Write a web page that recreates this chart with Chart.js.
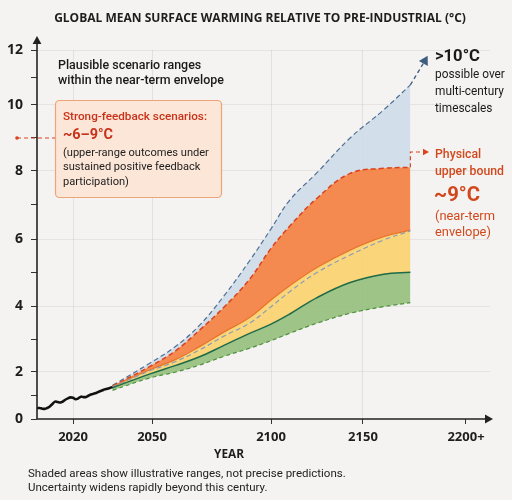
<!DOCTYPE html>
<html><head><meta charset="utf-8">
<script src="https://cdn.jsdelivr.net/npm/chart.js@4.4.1/dist/chart.umd.min.js"></script>
<style>
html,body{margin:0;padding:0;background:#f4f3f1;}
#wrap{width:512px;height:500px;position:relative;}
</style></head><body>
<div id="wrap"><canvas id="c" width="512" height="500"></canvas></div>
<script>
// ---------- data ----------
const histYears  = [2006,2007,2008,2009,2010,2011,2012,2013,2014,2015,2016,2017,2018,2019,2020,2021,2022,2023,2024,2025,2026,2027,2028,2029,2030,2031,2032,2033,2034,2035];
const histValues = [0.46,0.47,0.44,0.43,0.47,0.53,0.64,0.74,0.72,0.70,0.74,0.82,0.88,0.92,0.90,0.84,0.88,0.95,0.93,0.94,1.00,1.05,1.08,1.12,1.17,1.21,1.26,1.29,1.32,1.36];

const projYears   = [2035, 2049, 2060, 2070, 2080, 2091, 2100, 2110, 2125, 2143, 2160, 2173];
const greenLow    = [1.22, 1.74, 2.00, 2.21, 2.47, 2.72, 2.95, 3.17, 3.48, 3.78, 3.98, 4.10];
const greenHigh   = [1.33, 1.91, 2.20, 2.46, 2.80, 3.17, 3.45, 3.75, 4.25, 4.70, 4.95, 5.01];
const medianLine  = [1.36, 2.03, 2.32, 2.67, 3.08, 3.48, 3.98, 4.42, 5.00, 5.52, 5.97, 6.24];
const yellowHigh  = [1.38, 2.06, 2.38, 2.77, 3.20, 3.65, 4.18, 4.60, 5.15, 5.67, 6.07, 6.26];
const orangeHigh  = [1.40, 2.16, 2.65, 3.27, 3.95, 4.80, 5.72, 6.37, 7.20, 7.93, 8.08, 8.11];
const blueHigh    = [1.43, 2.26, 2.78, 3.42, 4.28, 5.35, 6.30, 7.13, 7.95, 9.00, 9.85, 10.73];

const arrowYears  = [2173, 2180];
const arrowValues = [10.73, 11.6];

const xTickValues = [2020, 2050, 2100, 2150, 2200];
const xTickLabels = ['2020', '2050', '2100', '2150', '2200+'];
const yTickValues = [0,1,2,3,4,5,6,7,8,9,10,11,12];

// ---------- piecewise axis (reference axes are not evenly spaced) ----------
const BREAKS = {
  x: [[2006,0],[2020,0.0795],[2050,0.2539],[2100,0.5166],[2150,0.7196],[2200,0.947],[2212,1]],
  y: [[0,0],[2,0.1274],[4,0.3062],[6,0.4878],[8,0.6721],[10,0.851],[12,1]]
};
function toFrac(b, v){
  let i = 0;
  while (i < b.length - 2 && v > b[i+1][0]) i++;
  const [v0,f0] = b[i], [v1,f1] = b[i+1];
  return f0 + (v - v0) * (f1 - f0) / (v1 - v0);
}
function fromFrac(b, f){
  let i = 0;
  while (i < b.length - 2 && f > b[i+1][1]) i++;
  const [v0,f0] = b[i], [v1,f1] = b[i+1];
  return v0 + (f - f0) * (v1 - v0) / (f1 - f0);
}
class PiecewiseScale extends Chart.LinearScale {
  getPixelForValue(value){
    if (value === null || value === undefined || isNaN(value)) return NaN;
    return this.getPixelForDecimal(toFrac(BREAKS[this.axis], value));
  }
  getValueForPixel(pixel){
    return fromFrac(BREAKS[this.axis], this.getDecimalForPixel(pixel));
  }
}
PiecewiseScale.id = 'piecewise';
PiecewiseScale.defaults = Chart.LinearScale.defaults;
Chart.register(PiecewiseScale);

const pts = (xs, ys) => xs.map((x, i) => ({x, y: ys[i]}));
const FONT = '"Open Sans", "Noto Sans", sans-serif';
const TFONT = 'Roboto, "Open Sans", sans-serif';

function band(label, values, line, fillColor, dash, width){
  return {
    label, data: pts(projYears, values),
    borderColor: line, borderWidth: width || 1.3, borderDash: dash || [],
    backgroundColor: fillColor || 'transparent',
    fill: fillColor ? '-1' : false,
    pointRadius: 0, tension: 0.4
  };
}

const bgPlugin = {
  id: 'bg',
  beforeDraw(chart){
    const c = chart.ctx; c.save(); c.fillStyle = '#f4f3f1';
    c.fillRect(0, 0, chart.width, chart.height); c.restore();
  }
};

function arrowHead(c, x, y, angle, size, color){
  c.save(); c.translate(x, y); c.rotate(angle);
  c.fillStyle = color; c.beginPath();
  c.moveTo(0, 0); c.lineTo(-size, -size*0.55); c.lineTo(-size, size*0.55); c.closePath(); c.fill();
  c.restore();
}
// choose a font size so the reference text block keeps its width
function fitFont(c, weight, family, text, target){
  c.font = weight + ' 20px ' + family;
  const w = c.measureText(text).width;
  return weight + ' ' + (20 * target / w).toFixed(2) + 'px ' + family;
}
function block(c, lines, x, y0, lh, weight, family, widest, target, color){
  c.font = fitFont(c, weight, family, widest, target);
  c.fillStyle = color;
  lines.forEach((t, i) => c.fillText(t, x, y0 + i * lh));
}

const annoPlugin = {
  id: 'anno',
  afterDraw(chart){
    const c = chart.ctx, a = chart.chartArea, xs = chart.scales.x, ys = chart.scales.y;
    c.save();
    // axes with arrows
    c.strokeStyle = '#222'; c.lineWidth = 1.6; c.setLineDash([]);
    c.beginPath(); c.moveTo(a.left, a.bottom); c.lineTo(a.left, a.top - 10); c.stroke();
    arrowHead(c, a.left, a.top - 14, -Math.PI/2, 8, '#222');
    c.beginPath(); c.moveTo(a.left, a.bottom); c.lineTo(a.right - 2, a.bottom); c.stroke();
    arrowHead(c, a.right + 3, a.bottom, 0, 8, '#222');

    // title
    c.textBaseline = 'middle'; c.textAlign = 'center';
    const tTxt = 'GLOBAL MEAN SURFACE WARMING RELATIVE TO PRE-INDUSTRIAL (°C)';
    block(c, [tTxt], 260, 19, 0, 'bold', FONT, tTxt, 412, '#1d1d1d');

    // axis title + footnote
    block(c, ['YEAR'], 229, 455, 0, 'bold', FONT, 'YEAR', 30, '#1d1d1d');
    c.textAlign = 'left';
    const f1 = 'Shaded areas show illustrative ranges, not precise predictions.';
    block(c, [f1, 'Uncertainty widens rapidly beyond this century.'], 28, 474, 14.5, 'normal', TFONT, f1, 318, '#222');

    // upper-left note
    block(c, ['Plausible scenario ranges', 'within the near-term envelope'], 58, 66, 15, '500', TFONT,
          'within the near-term envelope', 166, '#1a1a1a');

    // strong-feedback box
    c.fillStyle = '#fce6d7'; c.strokeStyle = '#eea47a'; c.lineWidth = 1.2;
    c.beginPath(); c.roundRect(55.5, 100.5, 166, 97, 4); c.fill(); c.stroke();
    const y9 = ys.getPixelForValue(9);
    c.strokeStyle = '#d9431e'; c.lineWidth = 1.2; c.setLineDash([4, 3]);
    c.beginPath(); c.moveTo(17, y9); c.lineTo(55, y9); c.stroke(); c.setLineDash([]);
    c.fillStyle = '#d9431e'; c.beginPath(); c.arc(17, y9, 1.8, 0, Math.PI*2); c.fill();
    block(c, ['Strong-feedback scenarios:'], 63, 117, 0, '500', TFONT, 'Strong-feedback scenarios:', 144, '#c8321a');
    block(c, ['~6–9°C'], 63, 135, 0, 'bold', TFONT, '~6–9°C', 50, '#c8321a');
    block(c, ['(upper-range outcomes under', 'sustained positive feedback', 'participation)'], 63, 153, 14.5,
          'normal', TFONT, '(upper-range outcomes under', 146, '#222');

    // >10°C note
    block(c, ['>10°C'], 435, 57, 0, 'bold', TFONT, '>10°C', 45, '#1a1a1a');
    block(c, ['possible over', 'multi-century', 'timescales'], 435, 75, 17, 'normal', TFONT, 'multi-century', 69, '#1a1a1a');

    // physical upper bound connector + note
    const ex = xs.getPixelForValue(projYears[projYears.length-1]);
    const ey = ys.getPixelForValue(orangeHigh[orangeHigh.length-1]);
    c.strokeStyle = '#d9431e'; c.lineWidth = 1.2; c.setLineDash([4, 3]);
    c.beginPath(); c.moveTo(ex, ey); c.lineTo(ex, 152); c.lineTo(424, 152); c.stroke(); c.setLineDash([]);
    arrowHead(c, 429, 152, 0, 6, '#d9431e');
    block(c, ['Physical', 'upper bound'], 435, 155, 17, '500', TFONT, 'upper bound', 69, '#d2481c');
    block(c, ['~9°C'], 434, 196, 0, 'bold', TFONT, '~9°C', 46, '#d2481c');
    block(c, ['(near-term', 'envelope)'], 435, 217, 16, 'normal', TFONT, '(near-term', 60, '#d2481c');
    c.restore();
  }
};

new Chart(document.getElementById('c'), {
  type: 'line',
  data: {
    datasets: [
      { label: 'Observed', data: pts(histYears, histValues), borderColor: '#111', borderWidth: 2.6,
        pointRadius: 0, tension: 0.35, fill: false, order: -1 },
      band('Low', greenLow, '#4f8f3e', null, [4, 3], 1.2),
      band('Moderate', greenHigh, '#1f6a48', 'rgba(150,192,126,0.92)', [], 1.5),
      band('Central', medianLine, '#8c9db2', 'rgba(250,210,112,0.92)', [5, 3], 1.2),
      band('High', yellowHigh, '#e8742a', 'rgba(250,210,112,0.92)', [], 1.3),
      band('Strong feedback', orangeHigh, '#d9431e', 'rgba(244,132,72,0.95)', [5, 3], 1.5),
      band('Multi-century', blueHigh, '#4f6f93', 'rgba(206,219,232,0.9)', [5, 3], 1.2),
      { label: 'Extension', data: pts(arrowYears, arrowValues), borderColor: '#3e5e80', borderWidth: 1.4,
        borderDash: [4, 3], fill: false,
        pointRadius: ctx => ctx.dataIndex === 1 ? 4.5 : 0,
        pointStyle: 'triangle', rotation: 29, pointBackgroundColor: '#3e5e80', pointBorderColor: '#3e5e80' }
    ]
  },
  options: {
    responsive: false, animation: false,
    layout: { padding: { left: 0, top: 50, right: 22, bottom: 0 } },
    plugins: { legend: { display: false }, tooltip: { enabled: false }, title: { display: false },
      filler: { drawTime: 'beforeDatasetsDraw' } },
    scales: {
      x: {
        type: 'piecewise', min: 2006, max: 2212,
        afterFit: s => { s.height = 81; },
        afterBuildTicks: s => { s.ticks = xTickValues.map(v => ({ value: v })); },
        border: { display: false },
        grid: { color: ctx => ctx.tick && ctx.tick.value < 2200 ? 'rgba(0,0,0,0.07)' : 'transparent',
                tickColor: '#333', tickLength: 5, drawTicks: true },
        ticks: { autoSkip: false, maxRotation: 0, padding: 5, color: '#1d1d1d',
                 font: { family: FONT, size: 13, weight: 'bold' },
                 callback: v => xTickLabels[xTickValues.indexOf(v)] }
      },
      y: {
        type: 'piecewise', min: 0, max: 12,
        afterFit: s => { s.width = 37; },
        afterBuildTicks: s => { s.ticks = yTickValues.map(v => ({ value: v })); },
        border: { display: false },
        grid: { color: ctx => ctx.tick && ctx.tick.value % 2 === 0 && ctx.tick.value > 0 ? 'rgba(0,0,0,0.06)' : 'transparent',
                tickColor: '#333', tickLength: 6 },
        ticks: { padding: 8, color: '#1d1d1d', font: { family: FONT, size: 14, weight: 'bold' },
                 callback: v => v % 2 === 0 ? String(v) : '' }
      }
    }
  },
  plugins: [bgPlugin, annoPlugin]
});
</script>
</body></html>
